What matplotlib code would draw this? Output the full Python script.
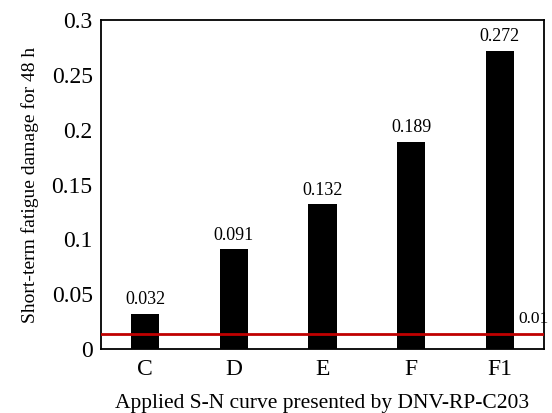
import matplotlib
matplotlib.use("Agg")
import matplotlib.pyplot as plt

categories = ["C", "D", "E", "F", "F1"]
damage = [0.032, 0.091, 0.132, 0.189, 0.272]
threshold = 0.014
threshold_label = "0.01"
yticks = [0, 0.05, 0.1, 0.15, 0.2, 0.25, 0.3]
ytick_labels = ["0", "0.05", "0.1", "0.15", "0.2", "0.25", "0.3"]

plt.rcParams['font.family'] = ['Liberation Serif', 'DejaVu Serif']

fig = plt.figure(figsize=(5.52, 4.13), dpi=100)
ax = fig.add_axes([101/552, 1-349/413, 443/552, 329/413])

x = list(range(len(categories)))
ax.bar(x, damage, width=0.32, color='black', zorder=2)
for xi, v in zip(x, damage):
    ax.text(xi, v + 0.005, f"{v:.3f}", ha='center', va='bottom', fontsize=13)

ax.axhline(threshold, color='#c00000', lw=2, zorder=3)
ax.text(4.21, threshold + 0.006, threshold_label, ha='left', va='bottom', fontsize=12.5)

ax.set_xlim(-0.5, 4.5)
ax.set_ylim(0, 0.3)
ax.set_xticks(x)
ax.set_xticklabels(categories, fontsize=17)
ax.set_yticks(yticks)
ax.set_yticklabels(ytick_labels, fontsize=17)
ax.tick_params(axis='y', length=0, pad=6)
ax.tick_params(axis='x', length=0, pad=7)
ax.set_xlabel("Applied S-N curve presented by DNV-RP-C203", fontsize=15.5, labelpad=10)
ax.set_ylabel("Short-term fatigue damage for 48 h", fontsize=14, labelpad=9)
for s in ax.spines.values():
    s.set_linewidth(1.3)

fig.savefig("out.png", dpi=100)
